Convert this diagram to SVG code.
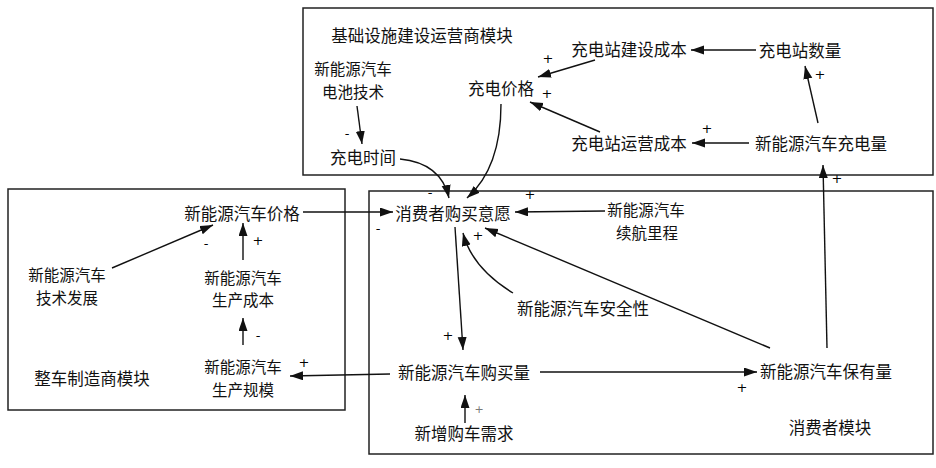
<svg xmlns="http://www.w3.org/2000/svg" width="936" height="468" viewBox="0 0 936 468">
<defs>
<marker id="ah" markerUnits="userSpaceOnUse" markerWidth="14" markerHeight="10" refX="13" refY="4.5" orient="auto">
<path d="M0,0 L13,4.5 L0,9 z" fill="#111"/>
</marker>
<style>
.box{fill:none;stroke:#222;stroke-width:1.5}
.lbl{font-family:"Noto Sans CJK SC","Noto Sans",sans-serif;font-size:16.5px;fill:#111;text-anchor:middle;dominant-baseline:central}
.ml{font-size:15.5px}
.mod{font-family:"Noto Sans CJK SC","Noto Sans",sans-serif;font-size:16.5px;fill:#111;text-anchor:middle;dominant-baseline:central}
.sg{font-family:"DejaVu Sans",sans-serif;font-size:13px;fill:#000;text-anchor:middle;dominant-baseline:central}
.c{fill:none;stroke:#111;stroke-width:1.4;marker-end:url(#ah)}
</style>
</defs>
<rect width="936" height="468" fill="#fff"/>
<g id="modules">
<rect class="box" x="303" y="8" width="630" height="167"/>
<rect class="box" x="8" y="189" width="337" height="221"/>
<rect class="box" x="369" y="191" width="564" height="263"/>
<text class="mod" x="422" y="35">基础设施建设运营商模块</text>
<text class="mod" x="92" y="378">整车制造商模块</text>
<text class="mod" x="830" y="427">消费者模块</text>
</g>
<g id="connectors">
<path class="c" d="M357,106 L362,144"/>
<path class="c" d="M756,50 L691,50"/>
<path class="c" d="M818,123 L805,66"/>
<path class="c" d="M749,143 L692,143"/>
<path class="c" d="M595,60 L538,77"/>
<path class="c" d="M600,132 L530,102"/>
<path class="c" d="M400,159 Q441,163 449,198"/>
<path class="c" d="M501,104 Q501,168 467,198"/>
<path class="c" d="M303,212 L393,212"/>
<path class="c" d="M605,211 L515,212"/>
<path class="c" d="M770,348 L485,228"/>
<path class="c" d="M513,293 Q472,268 463,233"/>
<path class="c" d="M455,227 L463,350"/>
<path class="c" d="M465,423 L465,395"/>
<path class="c" d="M540,372 L757,372"/>
<path class="c" d="M390,374 L290,376"/>
<path class="c" d="M827,348 L823,165"/>
<path class="c" d="M112,268 L213,225"/>
<path class="c" d="M243,260 L243,223"/>
<path class="c" d="M243,345 L243,318"/>
</g>
<g id="signs" opacity="0.99">
<text class="sg" x="347" y="133">-</text>
<text class="sg" x="548" y="58">+</text>
<text class="sg" x="547" y="93">+</text>
<text class="sg" x="820" y="74">+</text>
<text class="sg" x="707" y="128">+</text>
<text class="sg" x="837" y="178">+</text>
<text class="sg" x="430" y="192">-</text>
<text class="sg" x="530" y="194">+</text>
<text class="sg" x="378" y="228">-</text>
<text class="sg" x="478" y="235">+</text>
<text class="sg" x="448" y="335">+</text>
<text class="sg" x="479" y="409" style="font-size:11px;fill:#777">+</text>
<text class="sg" x="742" y="387">+</text>
<text class="sg" x="206" y="243">-</text>
<text class="sg" x="258" y="240">+</text>
<text class="sg" x="258" y="335">-</text>
<text class="sg" x="304" y="362">+</text>
</g>
<g id="n-battery"><text class="lbl ml"><tspan x="353" y="68.25">新能源汽车</tspan><tspan x="353" y="90.75">电池技术</tspan></text></g>
<g id="n-chargeprice"><text class="lbl" x="501" y="88">充电价格</text></g>
<g id="n-chargetime"><text class="lbl" x="363" y="157">充电时间</text></g>
<g id="n-buildcost"><text class="lbl" x="629" y="49">充电站建设成本</text></g>
<g id="n-stationnum"><text class="lbl" x="800" y="50">充电站数量</text></g>
<g id="n-opcost"><text class="lbl" x="629" y="143">充电站运营成本</text></g>
<g id="n-chargeamt"><text class="lbl" x="821" y="143">新能源汽车充电量</text></g>
<g id="n-carprice"><text class="lbl" x="242" y="213">新能源汽车价格</text></g>
<g id="n-techdev"><text class="lbl ml"><tspan x="67" y="274.25">新能源汽车</tspan><tspan x="67" y="296.75">技术发展</tspan></text></g>
<g id="n-prodcost"><text class="lbl ml"><tspan x="243" y="276.75">新能源汽车</tspan><tspan x="243" y="299.25">生产成本</tspan></text></g>
<g id="n-prodscale"><text class="lbl ml"><tspan x="243" y="366.25">新能源汽车</tspan><tspan x="243" y="388.75">生产规模</tspan></text></g>
<g id="n-intent"><text class="lbl" x="453" y="213">消费者购买意愿</text></g>
<g id="n-range"><text class="lbl ml"><tspan x="646" y="209.25">新能源汽车</tspan><tspan x="647" y="231.75">续航里程</tspan></text></g>
<g id="n-safety"><text class="lbl" x="583" y="308">新能源汽车安全性</text></g>
<g id="n-purchase"><text class="lbl" x="464" y="372">新能源汽车购买量</text></g>
<g id="n-demand"><text class="lbl" x="464" y="433">新增购车需求</text></g>
<g id="n-stock"><text class="lbl" x="826" y="371">新能源汽车保有量</text></g>
</svg>
